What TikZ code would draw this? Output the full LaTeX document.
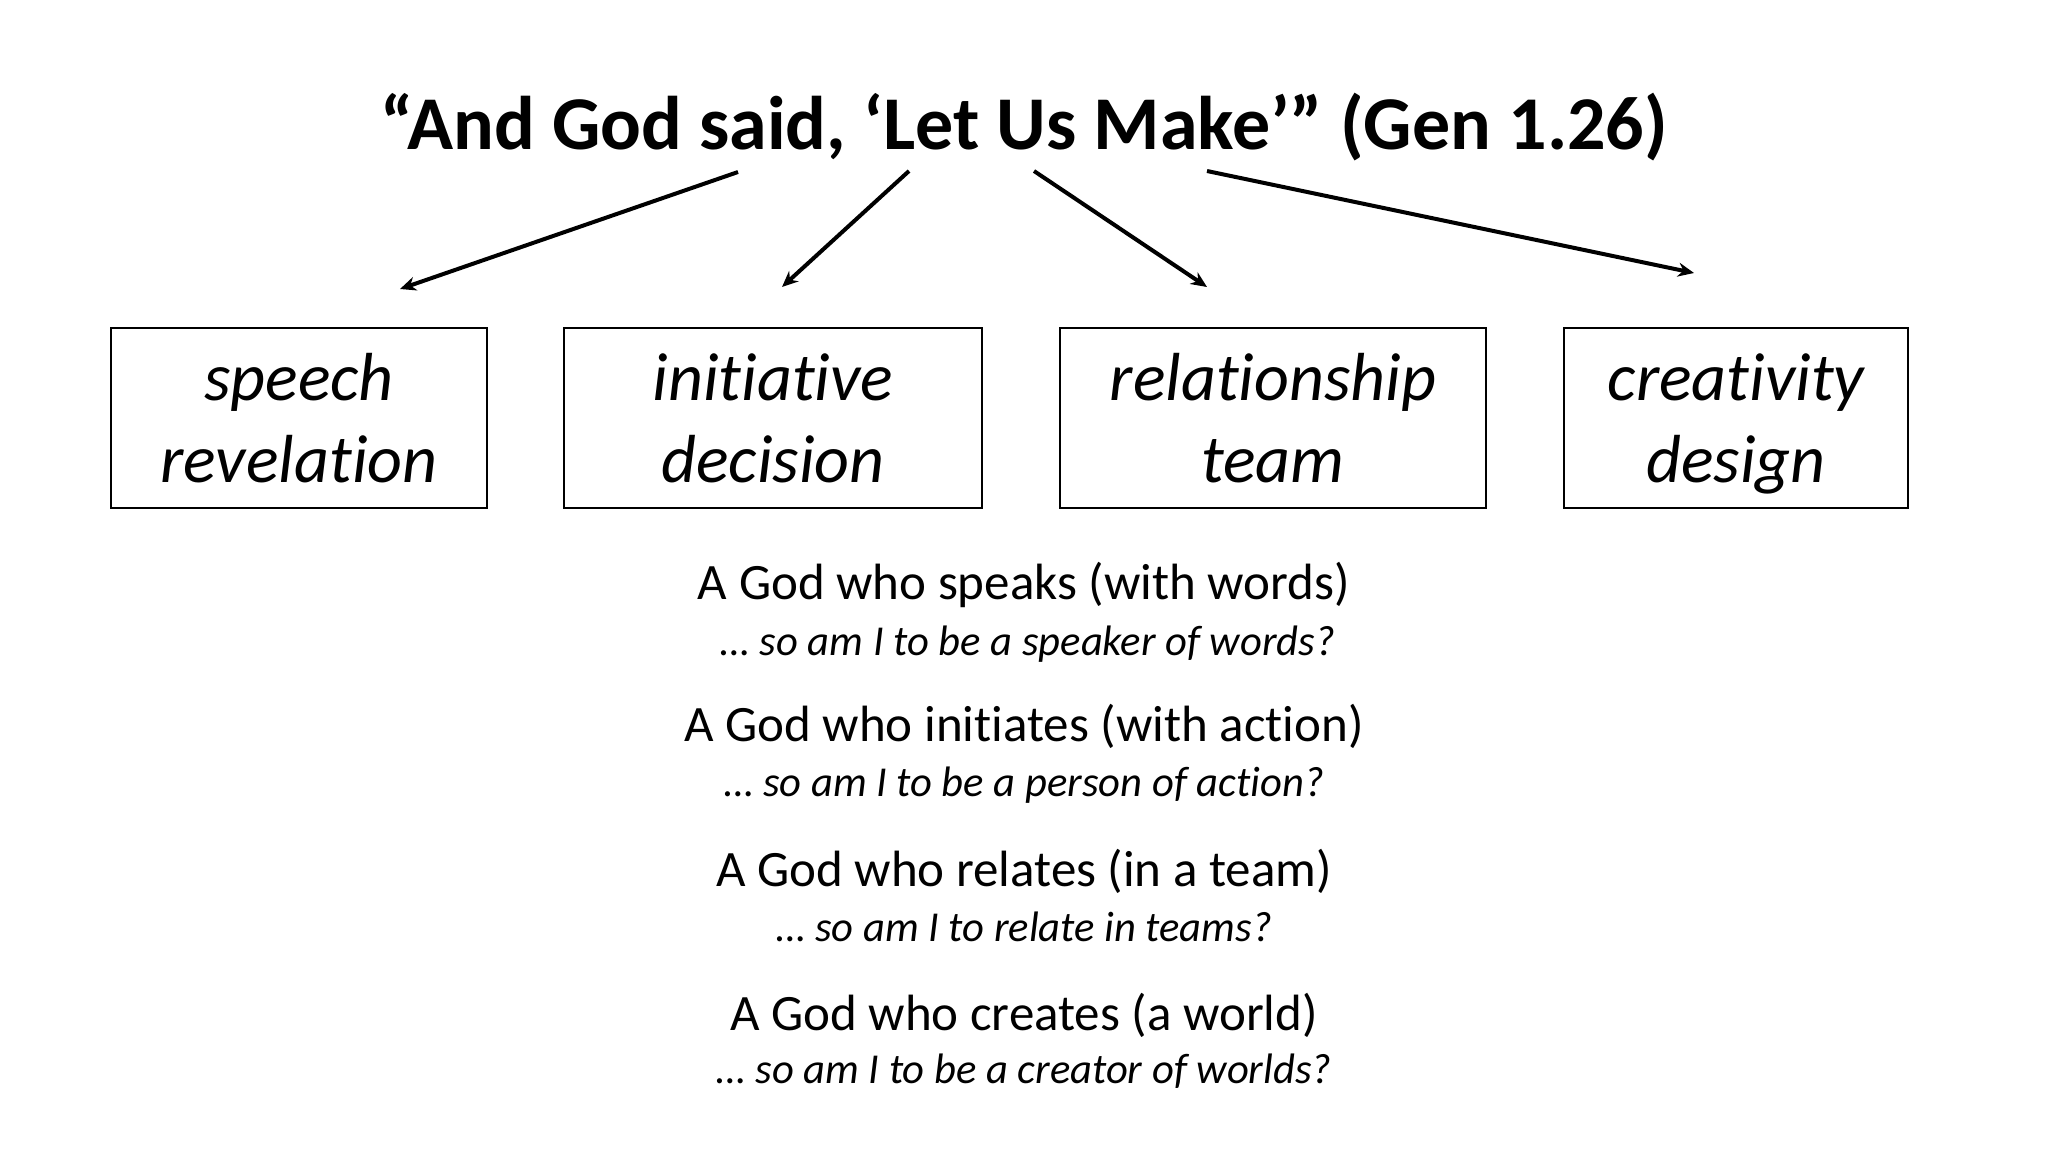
\documentclass[tikz,border=0pt]{standalone}
\usepackage{fontspec}
\setmainfont{Carlito}[Ligatures={TeX,NoCommon}]
\usetikzlibrary{arrows.meta}
\begin{document}
\begin{tikzpicture}[x=0.5pt, y=-0.5pt,
  trait/.style={draw, line width=1pt, minimum height=90pt, font=\fontsize{34}{41}\selectfont\itshape, align=center, inner sep=0pt},
  godline/.style={font=\fontsize{25.5}{30}\selectfont},
  askline/.style={font=\fontsize{21.3}{25}\selectfont\itshape},
  >={Stealth[length=8pt, width=7pt]}]
\useasboundingbox (0,0) rectangle (2048,1152);
\node[font=\fontsize{38}{45}\selectfont\bfseries] (title) at (1024,127) {``And God said, `Let Us Make'{}'' (Gen 1.26)};
\node[trait, minimum width=188pt] (speech) at (299,418) {speech\\revelation};
\node[trait, minimum width=209pt] (initiative) at (773,418) {initiative\\decision};
\node[trait, minimum width=213pt] (relation) at (1273,418) {relationship\\team};
\node[trait, minimum width=172pt] (create) at (1736,418) {\vphantom{h}creativity\\\raisebox{0pt}[\height][0pt]{design}};
\coordinate (s1) at (738,172); \coordinate (e1) at (400,289);
\coordinate (s2) at (909,171); \coordinate (e2) at (782,287);
\coordinate (s3) at (1034,171); \coordinate (e3) at (1207,287);
\coordinate (s4) at (1207,171); \coordinate (e4) at (1694,273);
\draw[->, line width=2pt] (s1) -- (e1);
\draw[->, line width=2pt] (s2) -- (e2);
\draw[->, line width=2pt] (s3) -- (e3);
\draw[->, line width=2pt] (s4) -- (e4);
\node[godline] (speaks) at (1024,585) {A God who speaks (with words)};
\node[askline] (speaker) at (1028,644) {\dots\ so am I to be a speaker of words?};
\node[godline] (initiates) at (1024,726) {A God who initiates (with action)};
\node[askline] (action) at (1024,785) {\dots\ so am I to be a person of action?};
\node[godline] (relates) at (1024,871) {A God who relates (in a team)};
\node[askline] (teams) at (1024,927) {\dots\ so am I to relate in teams?};
\node[godline] (creates) at (1024,1015) {A God who creates (a world)};
\node[askline] (worlds) at (1024,1071) {\dots\ so am I to be a creator of worlds?};
\end{tikzpicture}
\end{document}
